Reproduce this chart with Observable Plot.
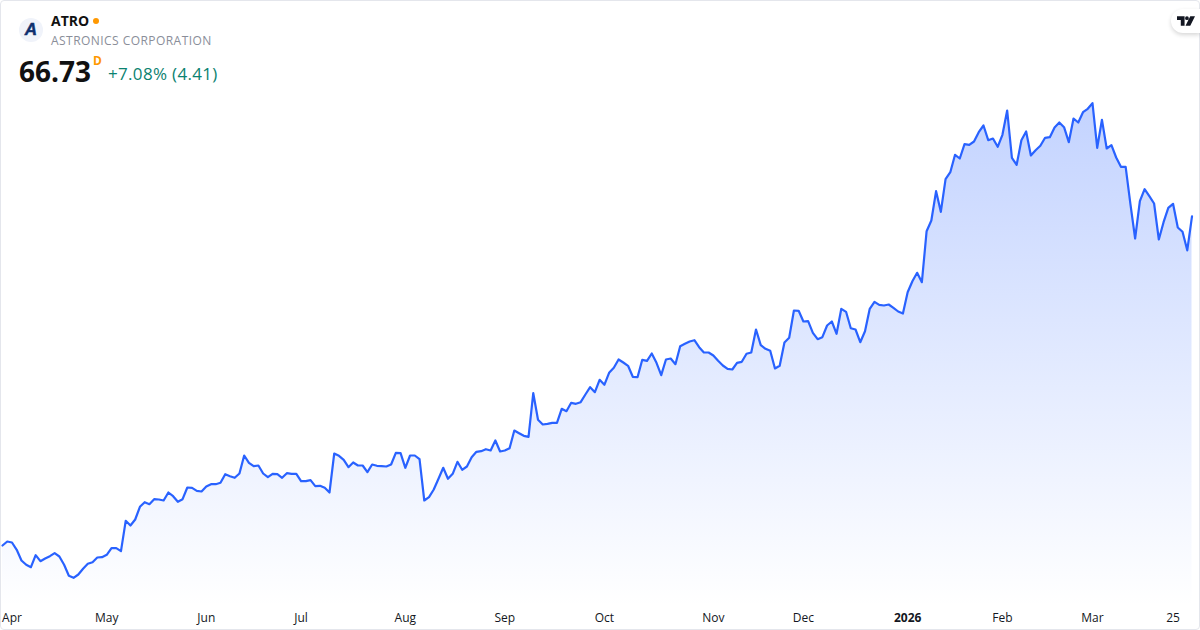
<!DOCTYPE html>
<html>
<head>
<meta charset="utf-8">
<script src="https://cdn.jsdelivr.net/npm/d3@7"></script>
<script src="https://cdn.jsdelivr.net/npm/@observablehq/plot@0.6"></script>
<style>
html,body{margin:0;padding:0;background:#fff;width:1200px;height:630px;overflow:hidden;font-family:"Open Sans",sans-serif}
#card{position:relative;width:1200px;height:630px;overflow:hidden}
#card svg.plot{position:absolute;left:0;top:0}
#border{position:absolute;left:0;top:0;width:1198px;height:628px;border:1px solid #e4e6ec;border-radius:4px;pointer-events:none}
.abs{position:absolute;white-space:nowrap}
#logo{left:19px;top:18px;width:24px;height:24px;border-radius:50%;background:#f0f3fa;color:#0e2f6e;font:italic 700 17px/24px "Liberation Sans",sans-serif;text-align:center;-webkit-text-stroke:.5px #0e2f6e}
#sym{left:51px;top:12px;font-size:14px;line-height:18px;font-weight:700;color:#111}
#dot{left:93px;top:18px;width:6px;height:6px;border-radius:50%;background:#ff9800}
#name{left:51px;top:33px;font-size:12px;line-height:16px;color:#8a8e99;letter-spacing:.45px}
#price{left:19px;top:52px;font-size:28px;line-height:38px;font-weight:700;color:#111}
#flag{left:93px;top:54px;font-size:12px;line-height:14px;font-weight:700;color:#ff9800}
#chg{left:108px;top:62px;font-size:17px;line-height:24px;letter-spacing:.32px;color:#0b8270}
#tv{right:0;top:9px;width:29px;height:24px;background:#fff;border-radius:12px 0 0 12px;box-shadow:0 2px 4px rgba(0,0,0,.16)}
#tv svg{position:absolute;left:6px;top:7px}
</style>
</head>
<body>
<div id="card">
  <div id="border"></div>
  <div class="abs" id="logo">A</div>
  <div class="abs" id="sym">ATRO</div>
  <div class="abs" id="dot"></div>
  <div class="abs" id="name">ASTRONICS CORPORATION</div>
  <div class="abs" id="price">66.73</div>
  <div class="abs" id="flag">D</div>
  <div class="abs" id="chg">+7.08% (4.41)</div>
  <div class="abs" id="tv"><svg width="18" height="10" viewBox="0 0 19 10"><path fill="#131722" d="M0 0h8v10H4V4H0zM10.5 0a2 2 0 1 1 0 4a2 2 0 1 1 0-4zM14 0h5l-5 10H9z"/></svg></div>
</div>
<script>
const closes = [
23.95,24.47,24.34,23.39,22.0,21.44,21.13,22.69,21.91,22.26,22.56,22.95,22.52,21.44,20.01,19.75,20.18,20.92,21.57,21.78,
22.39,22.43,22.74,23.6,23.6,23.21,27.16,26.55,27.33,28.98,29.58,29.32,29.97,29.93,29.8,30.84,30.36,29.63,29.97,31.49,
31.45,31.06,30.97,31.62,31.92,31.92,32.10,33.22,32.96,32.75,33.31,35.65,34.70,34.26,34.35,33.31,32.83,33.27,33.22,32.75,
33.35,33.27,33.27,32.31,32.31,32.44,31.66,31.71,31.45,30.84,35.91,35.61,35.09,34.13,34.74,34.35,34.35,33.48,34.48,34.31,
34.26,34.22,34.48,36.0,35.95,34.05,35.65,35.65,35.17,29.8,30.23,31.23,32.62,34.05,32.62,33.27,34.83,33.79,34.22,35.43,
36.13,36.21,36.47,36.3,37.6,36.17,36.3,36.6,38.9,38.55,38.21,38.08,43.75,40.29,39.68,39.77,39.9,39.9,41.72,41.41,
42.5,42.37,42.58,43.58,44.53,43.88,45.49,44.84,46.40,47.05,48.13,47.74,47.31,45.88,45.83,48.09,47.96,48.91,47.70,46.09,
48.13,48.26,47.52,49.86,50.17,50.47,50.64,49.73,49.04,49.04,48.65,47.96,47.35,46.90,46.83,47.70,47.83,48.87,49.04,52.03,
50.0,49.52,49.26,46.96,47.31,50.34,50.95,54.5,54.46,53.07,53.11,51.60,50.77,51.03,52.55,53.07,51.47,54.72,54.33,52.20,
52.03,50.38,51.81,54.72,55.63,55.24,55.15,55.28,54.85,54.37,54.11,56.88,58.31,59.40,58.18,64.81,66.2,70.01,67.33,71.57,
72.48,74.74,74.26,76.12,76.04,76.47,77.68,78.55,76.64,76.86,75.78,77.34,80.5,74.35,73.44,76.64,77.77,74.65,75.34,75.91,
76.95,77.03,78.29,78.94,78.33,76.38,79.46,78.94,80.28,80.72,81.45,75.65,79.29,75.56,75.99,74.39,73.18,73.18,68.37,63.86,
68.71,70.27,69.36,68.41,63.73,65.98,67.85,68.37,65.29,64.73,62.32,66.73
];
const days = closes.map((_, i) => i);
const baseline = 16;
const monthTicks = [2, 22, 43, 63, 85, 106, 127, 150, 169, 211, 230, 247];
const monthLabels = ["Apr","May","Jun","Jul","Aug","Sep","Oct","Nov","Dec","Feb","Mar","25"];
const yearTicks = [191];
const yearLabels = ["2026"];

const gradient = () => {
  const defs = d3.create("svg:defs");
  const g = defs.append("linearGradient").attr("id","fade").attr("x1",0).attr("x2",0).attr("y1",0).attr("y2",1);
  g.append("stop").attr("offset","0%").attr("stop-color","#2962ff").attr("stop-opacity",0.28);
  g.append("stop").attr("offset","100%").attr("stop-color","#2962ff").attr("stop-opacity",0);
  return defs.node();
};

const axisText = {fontSize: 12, fill: "#131722", fontFamily: "Open Sans, sans-serif", textAnchor: "middle", lineAnchor: "middle", frameAnchor: "bottom", dy: -12};

const chart = Plot.plot({
  width: 1200, height: 630,
  margin: 0,
  style: {background: "transparent", fontFamily: "Open Sans, sans-serif"},
  x: {type: "linear", domain: [0, closes.length - 1], range: [2, 1191.5], axis: null},
  y: {type: "linear", domain: [12.9, 94.8], range: [630, 0], axis: null},
  marks: [
    gradient,
    Plot.areaY(days, {x: d => d, y1: baseline, y2: d => closes[d], fill: "url(#fade)", curve: "linear"}),
    Plot.lineY(days, {x: d => d, y: d => closes[d], stroke: "#2962ff", strokeWidth: 2.2, curve: "linear"}),
    Plot.text(monthTicks, {x: d => d, text: (d, i) => monthLabels[i], ...axisText}),
    Plot.text(yearTicks, {x: d => d, text: (d, i) => yearLabels[i], ...axisText, fontWeight: 700})
  ]
});
document.getElementById("card").prepend(chart);
</script>
</body>
</html>
